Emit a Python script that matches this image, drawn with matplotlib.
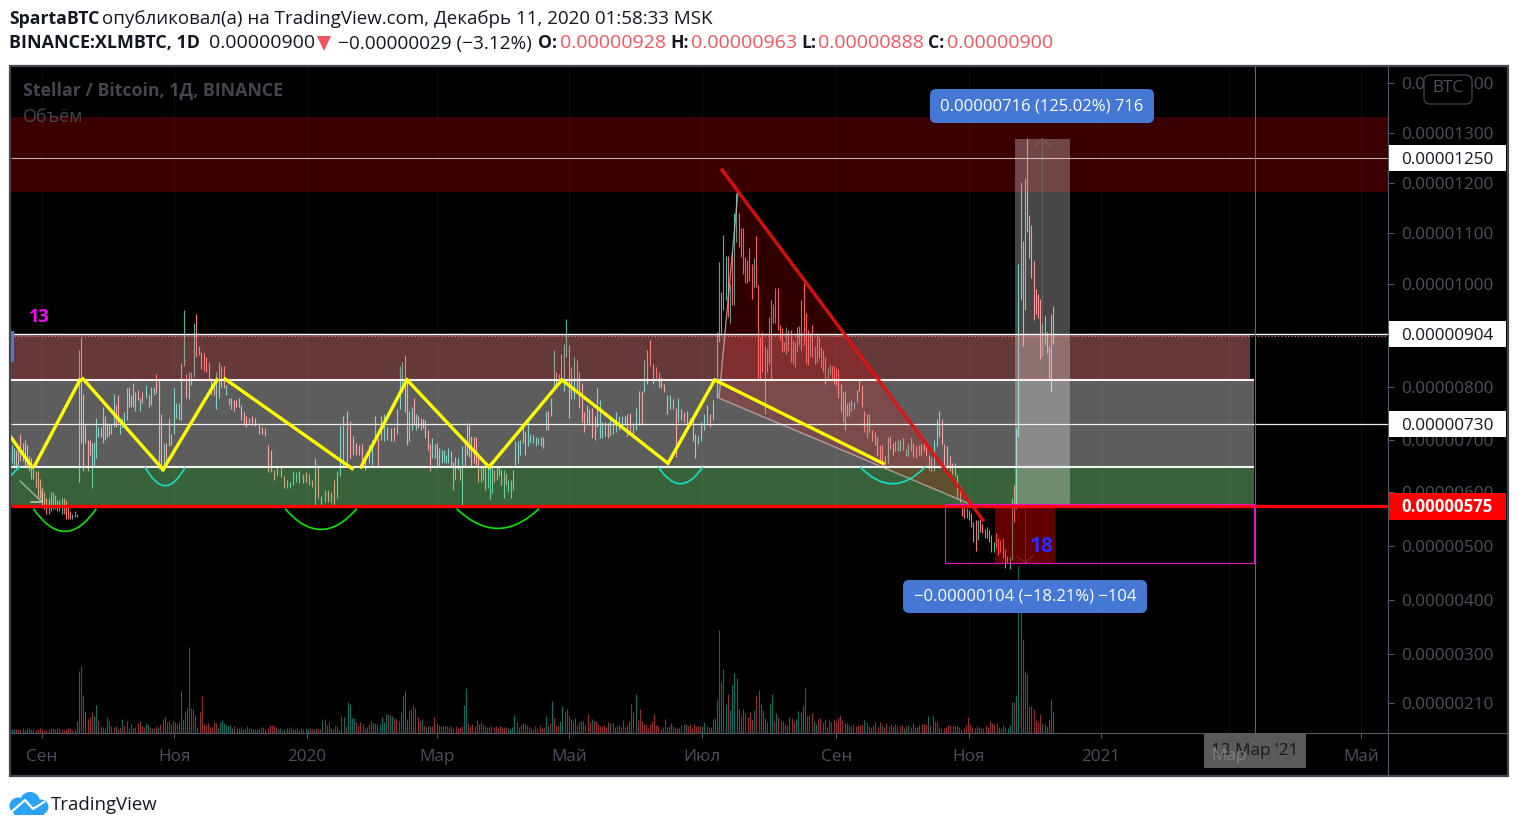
import numpy as np
import matplotlib
matplotlib.use("Agg")
import matplotlib.pyplot as plt
from matplotlib.patches import Rectangle, FancyBboxPatch, Polygon, PathPatch, Ellipse
from matplotlib.path import Path

plt.rcParams['font.family'] = ['Open Sans', 'DejaVu Sans']

W, H = 1519, 831
# ------------- data: prices in 1e-8 BTC, x in days since 1 Sep 2019 -------------
seg_a = (-14, 16, [(690,655,1),(685,650,1),(680,650,0),(680,645,1),(712,660,0),(695,660,0),(700,650,0),(690,650,1),(670,640,0),(665,625,0),(650,625,0),(640,610,0),(640,590,0),(625,590,0),(610,575,0),(600,570,0),(590,560,0),(590,560,0),(600,565,1),(600,570,1),(595,570,1),(585,565,0),(585,565,0),(590,560,1),(590,560,0),(585,550,0),(575,550,0),(565,550,0),(560,550,1),(565,555,1),(560,555,1)])
seg_b = (17, 46, [(873,620,1),(898,694,0),(787,640,0),(728,694,0),(700,640,0),(700,672,0),(694,608,1),(697,648,1),(742,665,1),(725,705,1),(725,705,0),(763,694,1),(745,700,1),(732,705,0),(730,708,1),(730,712,1),(787,725,1),(766,725,0),(785,732,0),(742,712,1),(742,722,1),(752,727,1),(798,738,1),(800,763,0),(785,762,1),(807,763,0),(790,755,1),(795,775,0),(780,755,1),(790,770,0)])
seg_c1 = (48, 93, [(803,780,1),(785,762,1),(800,766,0),(800,785,1),(826,788,0),(815,645,0),(748,640,0),(694,652,1),(694,660,0),(742,688,1),(712,690,1),(798,712,1),(770,742,1),(770,738,1),(848,738,1),(950,842,1),(826,780,0),(830,778,1),(830,803,1),(926,820,1),(942,858,0),(880,862,0),(868,835,0),(866,832,0),(858,830,0),(850,813,0),(817,785,1),(813,785,0),(830,758,1),(850,780,1),(842,800,0),(842,798,0),(803,785,1),(780,766,0),(780,758,1),(775,755,0),(775,762,0),(780,762,0),(766,738,0),(752,728,0)])
seg_c2 = (94, 165, [(745,725,0),(742,732,1),(745,728,0),(742,727,0),(732,712,0),(725,712,0),(722,708,0),(690,638,0),(680,638,0),(642,623,0),(648,630,0),(648,628,0),(630,608,0),(623,608,1),(620,608,1),(640,613,1),(638,620,1),(640,618,0),(635,618,1),(638,620,0),(635,613,1),(623,610,0),(665,577,1),(652,590,0),(592,577,1),(603,582,1),(603,582,0),(600,580,1),(623,577,0),(640,590,1),(726,630,1),(745,648,1),(755,655,1),(735,665,0),(708,672,0),(694,672,0),(690,672,0),(692,652,0),(672,642,0),(690,655,1),(700,652,1),(745,700,1),(703,648,0),(745,700,0),(748,698,1),(725,700,0),(722,698,0),(725,698,0),(758,712,1),(798,758,1)])
seg_d = (165, 217, [(842,772,1),(850,790,1),(862,752,0),(813,690,0),(755,698,1),(763,718,1),(780,728,0),(748,718,1),(745,722,0),(742,718,0),(740,722,0),(738,703,0),(718,680,0),(692,640,0),(703,665,1),(692,665,1),(694,648,0),(685,648,1),(680,655,1),(680,658,1),(672,655,1),(685,655,1),(678,648,0),(658,603,0),(668,623,0),(665,642,1),(648,623,0),(688,577,1),(698,648,0),(732,672,0),(728,668,0),(708,648,0),(706,655,0),(705,652,0),(672,620,0),(648,620,0),(648,623,1),(648,603,0),(648,608,1),(648,588,1),(648,598,1),(642,620,0),(648,623,0),(648,630,1),(642,613,0),(642,590,1),(637,613,0),(623,600,1),(623,590,1),(642,603,1)])
seg_e = (218, 257, [(698,648,1),(698,655,1),(700,672,1),(732,694,0),(715,672,0),(733,688,1),(712,694,1),(710,694,1),(706,688,1),(703,692,1),(705,688,0),(705,685,1),(755,718,1),(755,718,0),(780,745,1),(872,798,1),(830,798,0),(826,805,1),(865,815,0),(885,793,1),(933,858,1),(882,742,0),(840,778,0),(858,778,1),(852,795,1),(830,760,0),(807,733,0),(752,715,0),(766,732,1),(758,728,0),(760,703,0),(745,700,0),(798,725,0),(775,703,1)])
seg_f = (258, 309, [(733,703,1),(733,708,1),(732,703,0),(745,708,1),(732,712,0),(752,715,1),(745,718,0),(745,722,1),(745,728,0),(748,708,0),(750,715,0),(732,703,1),(760,718,1),(793,728,1),(793,728,0),(852,790,1),(872,805,0),(893,842,0),(845,805,0),(840,817,0),(830,800,0),(820,798,0),(805,790,0),(785,748,0),(785,758,1),(778,758,0),(760,668,0),(780,733,1),(758,738,1),(752,733,0),(755,728,1),(742,728,0),(742,698,0),(712,665,0),(708,692,1),(733,698,1),(748,718,1),(766,732,1),(748,725,0),(775,738,1)])
seg_g = (311, 372, [(908,780,1),(1044,888,1),(985,905,0),(1096,950,1),(1054,970,1),(1054,936,0),(1000,925,1),(1062,960,0),(1140,960,1),(1180,1082,1),(1140,1072,0),(1110,1052,0),(1110,1020,0),(1052,1002,0),(1048,1002,0),(1070,1005,0),(1040,972,0),(1050,992,1),(1094,995,0),(998,816,0),(898,816,0),(908,830,0),(880,748,1),(875,830,0),(936,845,1),(970,816,1),(962,925,1),(992,925,1),(992,912,0),(922,893,0),(915,868,0),(888,870,0),(918,865,1),(912,870,0),(912,850,0),(893,845,0),(888,840,0),(918,868,1),(920,883,1),(970,873,1),(1002,883,0),(945,845,0),(912,843,0),(905,858,1),(922,858,0),(880,845,1),(905,850,0),(898,857,0),(878,838,0),(873,830,0),(858,806,0),(838,816,1),(843,825,1),(842,818,0),(842,806,0),(838,803,0),(835,780,0),(806,752,0),(790,733,1),(792,718,1),(770,745,1),(772,745,1)])
seg_h = (373, 423, [(775,755,1),(772,758,1),(795,772,1),(816,792,0),(803,762,0),(755,715,0),(748,703,1),(748,715,1),(718,698,0),(715,690,0),(705,670,0),(690,655,0),(690,652,0),(670,645,0),(705,655,1),(708,683,0),(695,672,0),(698,678,1),(700,678,1),(700,678,1),(703,680,0),(683,670,1),(692,670,1),(703,678,1),(695,668,0),(688,665,0),(690,672,1),(692,672,1),(695,678,0),(690,670,0),(672,643,0),(668,638,0),(700,640,1),(740,688,1),(755,705,1),(740,692,0),(692,645,0),(688,645,1),(670,640,0),(655,635,0),(655,630,0),(632,588,0),(612,582,0)])
seg_i = (424, 449, [(580,557,0),(572,553,0),(572,553,1),(567,548,0),(562,535,0),(545,508,0),(548,491,0),(548,512,1),(550,527,0),(542,525,0),(532,515,0),(535,515,1),(530,508,0),(520,489,0),(508,489,1),(525,497,0),(515,484,0),(512,489,0),(515,478,0),(495,460,0),(482,468,1),(480,458,1),(590,475,1),(613,545,0),(722,570,1)])
seg_j = (450, 466, [(1040,705,1),(1202,970,1),(1085,880,0),(1210,950,1),(1290,1102,0),(1136,1050,0),(1116,1012,0),(1045,930,0),(990,942,0),(980,935,0),(972,855,0),(925,860,1),(938,882,1),(908,866,0),(880,813,0),(942,790,1),(958,885,0)])
price_segments = [seg_a, seg_b, seg_c1, seg_c2, seg_d, seg_e, seg_f, seg_g, seg_h, seg_i, seg_j]

# volume: height units, sign = candle direction (+ up, - down)
vol_1 = (-14, 16, [4,4,-4,-4,-4,5,-3,5,-5,4,4,-3,-4,-5,-4,-3,-3,-4,-5,-5,-4,5,-5,-4,-3,-4,-5,-5,-3,4,12])
vol_2 = (17, 46, [62,-67,-38,-22,-14,-16,-21,17,28,-13,-7,6,-5,16,-12,-7,-6,7,-4,-6,14,-8,-12,-5,9,5,-6,-10,-12,-7])
vol_3 = (47, 101, [-6,10,8,-6,5,-5,-7,6,-9,-14,-16,-11,-12,-9,-12,-11,-9,11,42,14,22,-25,86,-25,-24,18,6,-21,-37,-9,-8,-10,-6,-6,-11,-10,5,11,13,10,8,7,8,5,-7,5,5,6,4,5,-7,5,5,4,4,4,4,-6])
vol_4 = (102, 211, [-6,-4,-5,-8,-8,-7,-6,4,5,-3,4,5,5,-6,4,4,5,-3,-5,-4,5,4,-5,-4,4,-5,-4,-4,13,-14,-8,-11,5,-4,-7,7,-3,17,16,-7,31,29,15,15,-11,-7,-11,-9,5,6,-9,-12,10,-10,9,9,16,11,19,-19,18,17,-15,-14,-12,21,37,42,-14,-23,-24,-28,25,-16,-12,14,-8,6,-7,7,-7,-16,-10,-8,7,-7,-7,-7,-6,-7,-5,-7,-5,-6,-7,28,45,-10,-7,-9,-7,-13,-9,-11,-9,-7,-6,-6,-7,-6,-7,-5,-7])
vol_5 = (211, 312, [-7,-5,-6,-6,5,4,6,18,-11,-6,8,-10,-9,-8,-6,-5,-4,-7,-5,-7,-5,-6,17,7,-10,32,-15,-7,-8,12,27,-21,-24,17,14,-11,15,-8,-11,-12,12,-8,-19,-11,14,-12,-12,-9,-7,-7,-8,-6,-11,10,-10,-6,-7,8,-6,-13,-6,-8,12,-29,-21,39,-13,-24,-12,-9,-9,-5,-9,-12,-19,-8,-7,-4,-6,-14,-6,-7,10,-7,-5,-5,-5,-8,9,-9,-7,-9,-5,-9,-7,-7,-7,7,11,-7,-6,-6,14,15,33,103])
vol_6 = (313, 446, [-51,64,29,-39,23,48,60,55,-24,-17,-24,-20,-16,-21,-14,23,-37,-43,29,-23,15,-11,30,39,-12,20,-16,-12,-12,-9,-8,16,-15,-11,14,22,21,27,-45,-17,-18,-20,12,9,-14,-15,-11,-14,-6,13,-11,-14,-12,-15,-18,-13,10,10,8,-7,-9,-7,-8,-8,-9,13,11,-7,-6,-8,-11,-6,-11,8,-6,-10,-7,-9,-7,-9,7,-7,-8,5,-7,8,-6,-10,-6,6,8,-9,-9,-9,17,-8,17,-12,-11,-6,-5,-5,-6,-8,-8,-8,-7,-7,-6,-4,-5,-8,-16,-9,-6,-5,-7,6,5,-5,-8,-6,-12,-10,-9,-10,-6,-5,-8,-6,5,8])
vol_7 = (447, 466, [31,-31,38,167,135,-94,62,-59,-27,-27,-23,-13,-11,-19,10,9,-7,-14,34,-22])
volume_segments = [vol_1, vol_2, vol_3, vol_4, vol_5, vol_6, vol_7]

price_ticks = [1400,1300,1200,1100,1000,800,700,600,500,400,300,210]
price_tick_labels = ['0.00001400','0.00001300','0.00001200','0.00001100','0.00001000','0.00000800','0.00000700','0.00000600','0.00000500','0.00000400','0.00000300','0.00000210']
time_ticks = [0,61,122,182,243,304,366,427,488,547,608]
time_labels = ['Сен','Ноя','2020','Мар','Май','Июл','Сен','Ноя','2021','Мар','Май']

# price axis of the chart is slightly non-linear: (price, position)
scale_price = [155,210,300,400,500,575,600,700,730,800,904,1000,1100,1200,1300,1400,1434]
scale_pos = [733,703,654,600,546,506,492,440,424,387,334,284,233,183,133,83,66]

zigzag = [([-14.3,-4.6],[705,648]),([-3.2,17.5],[652,814]),([18.9,55.8],[816,643]),([55.8,80.6],[643,814]),([84.3,142.9],[816,645]),([147,168.2],[648,814]),([168.2,206,239.6],[814,648,814]),([239.6,288.5,310,387.6],[814,655,814,655])]
green_arcs = [(-4,25,485),(112,145,492),(191,229,496)]
teal_arcs = [(47.5,66,578),(284,304.5,585),(377,407,585)]

# ------------- figure -------------
fig = plt.figure(figsize=(W/100, H/100), dpi=100, facecolor='white')
L, R, T, B = 11, 1388, 66, 733
rect = [L/W, 1-B/H, (R-L)/W, (B-T)/H]
fig.add_artist(Rectangle((10, H-776), 1498, 710, facecolor='black', edgecolor='none', transform=None, zorder=-1))
ax = fig.add_axes(rect, facecolor='black', zorder=1)
fwd = lambda p: np.interp(p, scale_price, -np.array(scale_pos, float))
inv = lambda q: np.interp(q, -np.array(scale_pos, float), scale_price)
ax.set_yscale('function', functions=(fwd, inv))
XMIN, XMAX = -14.3, 620.3
ax.set_xlim(XMIN, XMAX)
ax.set_ylim(155, 1434)

AXC = '#555a68'; TXT = '#4d505c'
for s in ax.spines.values():
    s.set_visible(False)
ax.yaxis.tick_right()
ax.set_yticks(price_ticks, price_tick_labels)
ax.set_xticks(time_ticks, time_labels)
ax.yaxis.set_minor_locator(matplotlib.ticker.NullLocator())
ax.tick_params(axis='y', length=4.3, width=0.72, color=AXC, labelcolor=TXT, labelsize=12.3, pad=5)
ax.tick_params(axis='x', length=3.6, width=0.72, color=AXC, labelcolor=TXT, labelsize=12.3, pad=8)
for v in time_ticks:
    ax.axvline(v, color='#0c0c10', lw=0.72, zorder=0.5)

# volume pane overlay
vax = fig.add_axes(rect, zorder=1.5, facecolor='none')
vax.set_xlim(XMIN, XMAX); vax.set_ylim(0, B-T); vax.set_axis_off()
for d0, d1, vals in volume_segments:
    days = np.linspace(d0, d1, len(vals))
    v = np.array(vals, float)
    vax.vlines(days[v > 0], 0, v[v > 0], color='#0f6e62', lw=0.8)
    vax.vlines(days[v < 0], 0, -v[v < 0], color='#92302f', lw=0.8)

# price bars
for d0, d1, bars in price_segments:
    days = np.linspace(d0, d1, len(bars))
    for d, (h, l, up) in zip(days, bars):
        ax.vlines(d, l, h, color='#3fb8a6' if up else '#fb6f72', lw=0.8, zorder=2)

# zones
END = 558.5
def band(lo, hi, color, alpha, x0=XMIN, x1=END, z=3):
    ax.add_patch(Rectangle((x0, lo), x1-x0, hi-lo, facecolor=color, alpha=alpha, lw=0, zorder=z))
band(1182, 1331, '#ff0000', 0.23, x1=XMAX)
band(813, 904, '#ff9191', 0.40, x1=556.5)
band(648, 813, '#ffffff', 0.37)
band(575, 648, '#97fe97', 0.39)
band(468, 575, '#ff0000', 0.39, 439.3, 467)
band(575, 1288, '#ffffff', 0.28, 448.4, 473.7, z=3.2)

# triangle drawing
tri_d = [320.7, 312, 426.7]; tri_p = [1182, 779, 580]
ax.add_patch(Polygon(np.c_[tri_d, tri_p], closed=True, facecolor='#ff0000', alpha=0.19, lw=0, zorder=3.3))
ax.plot(tri_d, tri_p, color='#c8b4b4', lw=1.0, alpha=0.75, zorder=3.4)

# level lines
ax.hlines(1250, XMIN, XMAX, color='#f0d8d8', lw=0.8, alpha=0.8, zorder=4)
ax.hlines(904, XMIN, XMAX, color='#ffffff', lw=1.0, zorder=4)
ax.hlines(901, XMIN, XMAX, color='#f77c80', lw=0.8, linestyles=(0, (1, 2)), zorder=4)
ax.hlines(813, XMIN, END, color='#fff0f0', lw=1.5, zorder=4)
ax.hlines(730, XMIN, XMAX, color='#f0f0f0', lw=0.9, zorder=4)
ax.hlines(648, XMIN, END, color='#f2f2f2', lw=1.5, zorder=4)
ax.hlines(575, XMIN, XMAX, color='#ff0000', lw=2.4, zorder=4.1)
ax.add_patch(Rectangle((416, 468), END-416, 578-468, fill=False, edgecolor='#e018c8', lw=0.8, zorder=4.2))
ax.axvline(559, color='#6a6a6a', lw=0.8, zorder=4)

# measure arrows
ax.plot([461, 461], [575, 1288], color='#8a8a8a', lw=0.8, alpha=0.4, zorder=3.5)
ax.plot([457.3, 461, 464.7], [1272, 1290, 1272], color='#8a8a8a', lw=0.8, alpha=0.35, zorder=3.5)
ax.plot([453, 453], [575, 470], color='#a04040', lw=0.8, alpha=0.5, zorder=3.5)
ax.plot([449.3, 453, 456.7], [482, 469, 482], color='#a04040', lw=0.8, alpha=0.5, zorder=3.5)
ax.plot([-10.1, 0, -5.1, 0, 0], [621, 582, 582, 582, 602], color='#c8d8c8', lw=1.0, alpha=0.7, zorder=4)

# arcs
def arc(d0, d1, top, ctrl, color):
    verts = [(d0, top), ((d0+d1)/2, ctrl), (d1, top)]
    ax.add_patch(PathPatch(Path(verts, [Path.MOVETO, Path.CURVE3, Path.CURVE3]), fill=False, edgecolor=color, lw=1.2, zorder=4.3))
for a in green_arcs:
    arc(a[0], a[1], 570, a[2], '#00e600')
for a in teal_arcs:
    arc(a[0], a[1], 648, a[2], '#14e0c4')
ax.plot([-14.3, -10.6], [632, 648], color='#14e0c4', lw=1.2, zorder=4.3)

# yellow zigzag and red trend line
for xs, ys in zigzag:
    ax.plot(xs, ys, color='#ffff00', lw=2.4, solid_joinstyle='miter', zorder=5)
ax.plot([313.4, 433.6], [1226, 549], color='#e81010', lw=2.4, alpha=0.92, zorder=5.2)

# figure-level overlays (pixel placement)
def ptext(x, y, s, **kw):
    kw.setdefault('va', 'center'); kw.setdefault('ha', 'left')
    fig.text(x/W, 1-(y+1.5)/H, s, zorder=kw.pop('zorder', 12), **kw)
def pbox(x0, y0, x1, y1, color, z=10, ec='none', round_=0):
    if round_:
        p = FancyBboxPatch((x0+round_, H-y1+round_), x1-x0-2*round_, y1-y0-2*round_, boxstyle=f'round,pad={round_},rounding_size={round_}', facecolor=color, edgecolor=ec, lw=0.9, transform=None, zorder=z)
    else:
        p = Rectangle((x0, H-y1), x1-x0, y1-y0, facecolor=color, edgecolor=ec, transform=None, zorder=z)
    fig.add_artist(p)

# frame
fig.add_artist(Rectangle((10, H-776), 1498, 710, fill=False, edgecolor='#434651', lw=1.6, transform=None, zorder=9))
fig.add_artist(plt.Line2D([L, 1508], [H-B, H-B], color=AXC, lw=0.8, transform=None, zorder=9))
fig.add_artist(plt.Line2D([R, R], [H-776, H-66], color=AXC, lw=0.8, transform=None, zorder=9))
pbox(11, 331, 14, 362, '#4a7bd0')

# chart titles
ptext(23, 89, 'Stellar / Bitcoin, 1Д, BINANCE', fontsize=12.8, fontweight='bold', color='#43464f')
ptext(23, 115, 'Объём', fontsize=13, color='#43464f')
ptext(29, 315, '13', fontsize=13, fontweight='bold', color='#ff00ff')
ptext(1030, 545, '18', fontsize=15, fontweight='bold', color='#2a2aff')

# measure labels
pbox(930, 89, 1154, 123, '#4478d4', round_=6)
ptext(1042, 105, '0.00000716 (125.02%) 716', fontsize=12, color='white', ha='center')
pbox(903, 580, 1147, 613, '#4478d4', round_=6)
ptext(1025, 595, '−0.00000104 (−18.21%) −104', fontsize=12, color='white', ha='center')

# price scale tags
pbox(1424, 75, 1472, 104, 'black', ec='#434651', round_=6)
ptext(1448, 87, 'BTC', fontsize=12.3, color=TXT, ha='center')
for y, s in [(158, '0.00001250'), (334, '0.00000904'), (424, '0.00000730')]:
    pbox(1389, y-13, 1506, y+13, 'white')
    ptext(1401, y, s, fontsize=12.3, color='#131722')
pbox(1389, 493, 1506, 520, '#ff0000')
ptext(1401, 505.5, '0.00000575', fontsize=12.1, fontweight='bold', color='white')

# time scale tag
pbox(1204, 734, 1306, 768, '#5a5a5a')
ptext(1255, 749.5, "13 Мар '21", fontsize=12.3, color='#1a1a1a', ha='center')
ptext(1229, 754, 'Мар', fontsize=12.3, color='#7e7e7e', ha='center', zorder=13)

# header
HB = 12.7; HR = 13.5; HP = 14.0
ptext(9, 17, 'SpartaBTC', fontsize=HB, fontweight='bold', color='#131722')
ptext(102, 17, 'опубликовал(а) на TradingView.com, Декабрь 11, 2020 01:58:33 MSK', fontsize=HR, color='#131722')
ptext(9, 42, 'BINANCE:XLMBTC, 1D', fontsize=12.9, fontweight='bold', color='#131722')
ptext(209, 42, '0.00000900', fontsize=HP, color='#131722')
fig.add_artist(Polygon([(317, H-36), (331, H-36), (324, H-51)], closed=True, facecolor='#f7525f', edgecolor='none', transform=None))
ptext(338, 42, '−0.00000029 (−3.12%)', fontsize=13.7, color='#131722')
for x, s, vx, v in [(538, 'O:', 560, '0.00000928'), (670, 'H:', 691, '0.00000963'), (801, 'L:', 818, '0.00000888'), (928, 'C:', 947, '0.00000900')]:
    ptext(x, 42, s, fontsize=HB, fontweight='bold', color='#131722')
    ptext(vx, 42, v, fontsize=HP, color='#f7525f')

# TradingView logo
LOGO = '#2aa3f5'
for cx, cy, d in [(18, 806, 17), (30, 802, 20), (41, 807, 15)]:
    fig.add_artist(Ellipse((cx, H-cy), d, d, facecolor=LOGO, edgecolor='none', transform=None, zorder=2))
fig.add_artist(Rectangle((14, H-815), 30, 8, facecolor=LOGO, edgecolor='none', transform=None, zorder=2))
fig.add_artist(plt.Line2D([9, 25, 33, 44], [H-814, H-800, H-809, H-802], color='white', lw=1.6, transform=None, zorder=3))
ptext(51, 803, 'TradingView', fontsize=13.4, color='#131722')

fig.savefig('out.png', dpi=100, facecolor='white')
